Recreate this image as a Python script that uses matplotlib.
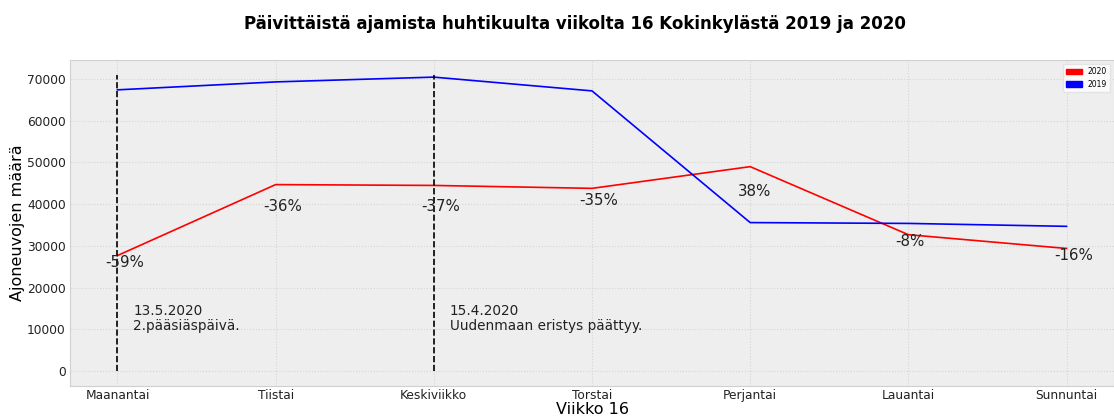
import matplotlib
matplotlib.use('Agg')
import matplotlib.pyplot as plt
import matplotlib.patches as mpatches

# weekdays of week 16
days = ['Maanantai', 'Tiistai', 'Keskiviikko', 'Torstai', 'Perjantai', 'Lauantai', 'Sunnuntai']

# daily traffic counts
traffic_2019 = [67400, 69300, 70450, 67150, 35600, 35400, 34700]
traffic_2020 = [27700, 44700, 44500, 43800, 49000, 32700, 29400]

# change labels and where they sit
change_labels = ['-59%', '-36%', '-37%', '-35%', '38%', '-8%', '-16%']
label_y = [26000, 39500, 39500, 41000, 43000, 31000, 27600]

# event markers
event_days = [0, 2]
event_texts = ['13.5.2020\n2.pääsiäspäivä.', '15.4.2020\nUudenmaan eristys päättyy.']

x = list(range(len(days)))

fig = plt.figure(figsize=(11.14, 4.17), dpi=100)
ax = fig.add_axes([70 / 1114, 31 / 417, 1044 / 1114, 326 / 417])
ax.set_facecolor('#eeeeee')
for s in ax.spines.values():
    s.set_color('#d0d0d0')
ax.grid(True, color='#d5d5d5', linestyle=':', linewidth=0.8)
ax.set_axisbelow(True)

ax.plot(x, traffic_2020, color='red', linewidth=1.2)
ax.plot(x, traffic_2019, color='blue', linewidth=1.2)

for d, t in zip(event_days, event_texts):
    ax.vlines(d, 0, 71000, colors='black', linestyles='--', linewidth=1.2)
    ax.text(d + 0.1, 9800, t, fontsize=9.8, color='#222222', linespacing=1.15)

for i, (lab, ly) in enumerate(zip(change_labels, label_y)):
    ax.text(i - 0.08, ly, lab, fontsize=10.8, color='#222222', va='center')

ax.set_xlim(-0.3, 6.3)
ax.set_ylim(-3550, 74550)
ax.set_xticks(x)
ax.set_xticklabels(days)
ax.set_yticks(range(0, 70001, 10000))
ax.tick_params(length=0, labelsize=8.8, colors='#222222')
ax.tick_params(axis='x', pad=2)
ax.tick_params(axis='y', pad=3)

ax.set_xlabel('Viikko 16', fontsize=11.5, labelpad=0)
ax.set_ylabel('Ajoneuvojen määrä', fontsize=11.5)
ax.yaxis.set_label_coords(-0.043, 0.5)

handles = [mpatches.Patch(color='red', label='2020'), mpatches.Patch(color='blue', label='2019')]
ax.legend(handles=handles, loc='upper right', fontsize=5.5, framealpha=0.8, edgecolor='#e0e0e0')

fig.text(575 / 1114, 1 - 24 / 417, 'Päivittäistä ajamista huhtikuulta viikolta 16 Kokinkylästä 2019 ja 2020',
         fontsize=12, fontweight='bold', ha='center', va='center')

plt.savefig('out.png', dpi=100)
